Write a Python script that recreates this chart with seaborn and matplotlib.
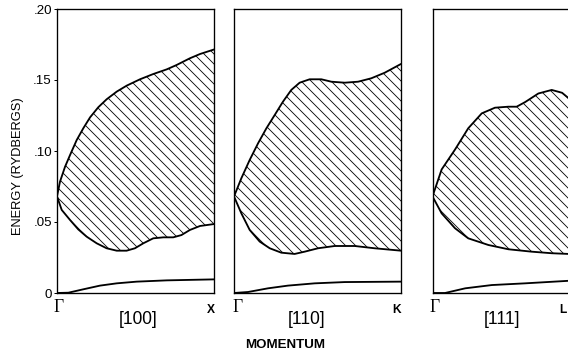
import numpy as np
import matplotlib
matplotlib.use("Agg")
import matplotlib.pyplot as plt
import seaborn as sns

# ---------------- data (fraction of path Γ -> zone edge, energy in Rydbergs) ----------------
# Panel [100]  Γ -> X
p100_upper_x = [0.0, 0.019, 0.051, 0.083, 0.125, 0.167, 0.21, 0.262, 0.315, 0.379, 0.442, 0.527, 0.611, 0.697, 0.76, 0.844, 0.908, 1.0]
p100_upper_y = [0.068, 0.0784, 0.0889, 0.0972, 0.1077, 0.116, 0.1237, 0.1308, 0.1364, 0.1418, 0.146, 0.1505, 0.1542, 0.1575, 0.1606, 0.1653, 0.1683, 0.1716]
p100_lower_x = [0.0, 0.03, 0.083, 0.135, 0.188, 0.252, 0.315, 0.379, 0.442, 0.495, 0.548, 0.611, 0.675, 0.738, 0.79, 0.844, 0.908, 1.0]
p100_lower_y = [0.068, 0.0585, 0.0514, 0.0448, 0.0397, 0.035, 0.0315, 0.0298, 0.0298, 0.0315, 0.035, 0.0385, 0.0392, 0.0392, 0.0408, 0.0444, 0.0472, 0.0486]
p100_bottom_x = [0.0, 0.072, 0.167, 0.273, 0.379, 0.506, 0.697, 1.0]
p100_bottom_y = [0.0, 0.0002, 0.0026, 0.0052, 0.0068, 0.008, 0.0089, 0.0096]

# Panel [110]  Γ -> K
p110_upper_x = [0.0, 0.044, 0.094, 0.144, 0.194, 0.244, 0.293, 0.343, 0.393, 0.453, 0.523, 0.583, 0.663, 0.743, 0.822, 0.902, 1.0]
p110_upper_y = [0.068, 0.0808, 0.0937, 0.1054, 0.116, 0.1254, 0.1347, 0.143, 0.1481, 0.1505, 0.1505, 0.1488, 0.1481, 0.1488, 0.1512, 0.1551, 0.1613]
p110_lower_x = [0.0, 0.044, 0.094, 0.154, 0.214, 0.283, 0.363, 0.423, 0.503, 0.603, 0.723, 0.842, 1.0]
p110_lower_y = [0.068, 0.0561, 0.0444, 0.0362, 0.0315, 0.0284, 0.0275, 0.0291, 0.0315, 0.0331, 0.0331, 0.0315, 0.0298]
p110_bottom_x = [0.0, 0.084, 0.204, 0.323, 0.483, 0.663, 1.0]
p110_bottom_y = [0.0, 0.0007, 0.0033, 0.0052, 0.0068, 0.0077, 0.008]

# Panel [111]  Γ -> L
p111_upper_x = [0.0, 0.067, 0.165, 0.262, 0.361, 0.458, 0.556, 0.617, 0.68, 0.776, 0.874, 0.95, 1.0]
p111_upper_y = [0.068, 0.087, 0.101, 0.116, 0.1265, 0.1305, 0.1312, 0.1312, 0.1345, 0.1405, 0.143, 0.141, 0.137]
p111_lower_x = [0.0, 0.067, 0.165, 0.262, 0.41, 0.556, 0.727, 0.874, 1.0]
p111_lower_y = [0.068, 0.0561, 0.0456, 0.0385, 0.0338, 0.0308, 0.0291, 0.028, 0.0275]
p111_bottom_x = [0.0, 0.092, 0.24, 0.435, 0.678, 1.0]
p111_bottom_y = [0.0, 0.0, 0.0033, 0.0056, 0.0068, 0.0086]

directions = ["[100]", "[110]", "[111]"]
end_points = ["X", "K", "L"]
ytick_values = [0.0, 0.05, 0.10, 0.15, 0.20]
ytick_labels = ["0", ".05", ".10", ".15", ".20"]

# ---------------- style ----------------
sns.set_style("white")
plt.rcParams["font.family"] = ["Liberation Sans", "DejaVu Sans"]
plt.rcParams["hatch.linewidth"] = 0.5
plt.rcParams["hatch.color"] = "black"

W, H, DPI = 568, 355, 120
fig = plt.figure(figsize=(W / DPI, H / DPI), dpi=DPI)
fig.patch.set_facecolor("white")

def fx(px):
    return px / W

def fy(py):
    return 1 - py / H

ax_bottom = fy(293)
ax_height = 284 / H
rects = [
    (fx(57), ax_bottom, 157.5 / W, ax_height),
    (fx(234), ax_bottom, 167 / W, ax_height),
    (fx(432.5), ax_bottom, 136.4 / W, ax_height),
]

panels = [
    (p100_upper_x, p100_upper_y, p100_lower_x, p100_lower_y, p100_bottom_x, p100_bottom_y),
    (p110_upper_x, p110_upper_y, p110_lower_x, p110_lower_y, p110_bottom_x, p110_bottom_y),
    (p111_upper_x, p111_upper_y, p111_lower_x, p111_lower_y, p111_bottom_x, p111_bottom_y),
]

for i, (rect, data) in enumerate(zip(rects, panels)):
    ux, uy, lx, ly, bx, by = data
    ax = fig.add_axes(rect)
    ax.set_facecolor("white")
    poly_x = np.concatenate([ux, lx[::-1]])
    poly_y = np.concatenate([uy, ly[::-1]])
    ax.fill(poly_x, poly_y, facecolor="none", edgecolor="black", hatch="\\\\\\\\", linewidth=0)
    for xs, ys in [(ux, uy), (lx, ly), (bx, by)]:
        sns.lineplot(x=xs, y=ys, ax=ax, color="black", linewidth=1.1, estimator=None, sort=False)
    ax.set_xlim(0, 1)
    ax.set_ylim(0, 0.20)
    ax.set_xticks([])
    ax.set_xlabel("")
    ax.set_ylabel("")
    for sp in ax.spines.values():
        sp.set_color("black")
        sp.set_linewidth(0.8)
        sp.set_visible(True)
    if i == 0:
        ax.set_yticks(ytick_values)
        ax.set_yticklabels(ytick_labels)
        ax.tick_params(axis="y", direction="out", length=2, width=0.6, pad=1,
                       labelsize=8, left=True, colors="black")
    else:
        ax.set_yticks([])

# ---------------- text ----------------
fig.text(fx(18), fy(166), "ENERGY (RYDBERGS)", rotation=90, ha="center", va="center",
         fontsize=7.7, color="black")

gamma_x = [59, 237.5, 434.5]
for gx in gamma_x:
    fig.text(fx(gx), fy(307), "Γ", ha="center", va="center", fontsize=10.5,
             family=["Liberation Serif", "DejaVu Serif"], color="black")

end_x = [211, 397, 563]
for ex, lab in zip(end_x, end_points):
    fig.text(fx(ex), fy(310), lab, ha="center", va="center", fontsize=7.2,
             fontweight="bold", color="black")

dir_x = [138, 306.5, 502]
for dx, lab in zip(dir_x, directions):
    fig.text(fx(dx), fy(320), lab, ha="center", va="center", fontsize=10.5, color="black")

fig.text(fx(285), fy(345), "MOMENTUM", ha="center", va="center", fontsize=8,
         fontweight="bold", color="black")

fig.savefig("out.png", dpi=DPI, facecolor="white")
